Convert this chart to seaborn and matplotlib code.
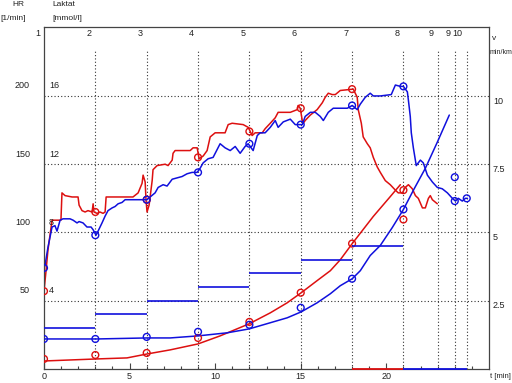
import numpy as np
import seaborn as sns
import matplotlib
matplotlib.use("Agg")
import matplotlib.pyplot as plt

sns.set_theme(style="white")
plt.rcParams['font.family'] = ['Liberation Sans', 'DejaVu Sans']

RED = "#dd1010"
BLUE = "#1010dd"
GRID = "#333333"

# heart rate traces (t in min, HR in 1/min)
red_t = [0, 0.12, 0.23, 0.47, 0.99, 1.05, 1.23, 1.64, 1.99, 2.05, 2.22, 2.40, 2.57, 2.81, 2.87, 2.92,
         3.10, 3.27, 3.45, 3.57, 3.63, 5.20, 5.50, 5.73, 5.79, 5.91, 5.96, 6.02, 6.14, 6.32, 6.37,
         6.61, 7.08, 7.25, 7.49, 7.54, 7.66, 8.54, 8.71, 8.95, 9.06, 9.30, 9.53, 9.71, 10.0, 10.58,
         10.76, 10.99, 11.64, 11.93, 12.05, 12.16, 12.34, 12.75, 12.92, 13.22, 13.51, 13.68, 13.98,
         14.39, 14.80, 14.85, 14.97, 15.09, 15.15, 15.26, 15.56, 15.96, 16.26, 16.43, 16.61, 16.84,
         17.02, 17.31, 18.07, 18.30, 18.36, 18.54, 18.65, 18.89, 19.06, 19.24, 19.47, 19.65, 19.94,
         20.23, 20.53, 20.70, 20.94, 21.11, 21.29, 21.52, 21.70, 21.87, 22.11, 22.28, 22.46, 22.57,
         22.69, 22.98]
red_hr = [57, 72, 87, 109, 109, 129, 127, 126, 126, 120, 116, 115, 116, 115, 121, 115,
          114, 115, 114, 115, 126, 126, 129, 136, 142, 137, 124, 115, 120, 138, 146,
          149, 150, 149, 153, 158, 160, 160, 162, 162, 154, 156, 160, 170, 173, 173,
          179, 180, 179, 177, 174, 171, 173, 173, 176, 180, 184, 188, 188,
          188, 190, 193, 191, 182, 180, 182, 186, 190, 195, 199, 202, 201,
          201, 204, 205, 199, 190, 180, 170, 165, 162, 155, 148, 144, 138,
          135, 131, 129, 129, 133, 135, 132, 127, 125, 118, 118, 125, 127,
          124, 121]

blue_t = [0, 0.06, 0.23, 0.47, 0.64, 0.76, 0.94, 1.11, 1.52, 1.70, 1.93, 2.05, 2.28, 2.51, 2.75,
          2.87, 3.04, 3.16, 3.39, 3.57, 3.74, 3.98, 4.15, 4.33, 4.56, 4.74, 4.91, 5.15, 5.50, 5.79,
          6.02, 6.20, 6.49, 6.67, 6.96, 7.19, 7.49, 7.78, 8.07, 8.36, 8.65, 8.95, 9.12, 9.30, 9.59,
          9.88, 10.29, 10.58, 10.88, 11.17, 11.46, 11.75, 11.93, 12.22, 12.46, 12.63, 12.92, 13.22,
          13.51, 13.68, 13.98, 14.39, 14.68, 14.85, 15.09, 15.26, 15.56, 15.85, 16.14, 16.32, 16.61,
          16.90, 17.31, 17.72, 18.01, 18.30, 18.48, 18.77, 19.06, 19.24, 19.65, 20.29, 20.53, 20.82,
          21.0, 21.23, 21.29, 21.40, 21.46, 21.58, 21.75, 21.99, 22.16, 22.40, 22.69, 22.98, 23.27,
          23.57, 23.86, 24.04, 24.21, 24.44, 24.62, 24.74]
blue_hr = [74, 76, 89, 104, 105, 101, 109, 110, 110, 109, 107, 108, 107, 104, 104,
           102, 98, 101, 107, 112, 116, 118, 119, 121, 122, 124, 124, 124, 124, 124,
           124, 126, 129, 133, 135, 134, 139, 140, 141, 143, 144, 144, 147, 151, 154,
           155, 165, 162, 160, 163, 158, 163, 165, 160, 171, 173, 173, 177,
           182, 177, 181, 183, 179, 179, 179, 185, 188, 188, 185, 182, 188,
           191, 191, 191, 193, 190, 194, 199, 202, 200, 200, 201, 208, 207,
           207, 203, 197, 185, 173, 162, 149, 153, 151, 142, 137, 133, 132,
           129, 125, 123, 125, 123, 125, 125]

# HR at end of each stage
red_hr_pts_t = [0, 3, 6, 9, 12, 15, 18, 21]
red_hr_pts = [57, 115, 124, 155, 174, 191, 205, 131]
blue_hr_pts_t = [0, 3, 6, 9, 12, 15, 18, 21, 24, 24.7]
blue_hr_pts = [74, 98, 124, 144, 165, 179, 193, 207, 123, 125]

# lactate samples (mmol/l)
red_lac_t = [0, 3, 6, 9, 12, 15, 18, 21]
red_lac = [0.59, 0.82, 0.94, 1.82, 2.76, 4.47, 7.35, 8.76]
blue_lac_t = [0, 3, 6, 9, 12, 15, 18, 21, 24]
blue_lac = [1.76, 1.76, 1.88, 2.18, 2.59, 3.59, 5.29, 9.35, 11.24]

# lactate curves
red_fit_t = [0, 3.1, 4.85, 6.02, 7.37, 9.0, 10.29, 11.99, 13.22, 14.21, 15.03, 15.96, 16.73, 17.31,
             18.01, 19.24, 20.23, 20.82]
red_fit = [0.47, 0.59, 0.65, 0.88, 1.12, 1.47, 1.94, 2.65, 3.29, 3.88, 4.47, 5.18, 5.76, 6.4,
           7.35, 8.94, 10.1, 10.8]
blue_fit_t = [0, 3.1, 6.02, 7.37, 9.0, 10.7, 11.99, 13.22, 14.21, 15.03, 15.96, 16.73, 17.31,
              18.01, 18.48, 19.06, 19.65, 20.35, 21.0, 21.58, 22.28, 22.98, 23.68]
blue_fit = [1.76, 1.76, 1.82, 1.82, 1.94, 2.12, 2.35, 2.71, 3.0, 3.35, 3.88, 4.41, 4.88,
            5.29, 5.76, 6.65, 7.24, 8.29, 9.35, 10.47, 11.76, 13.29, 14.88]

# speed per stage
stage_start = [0, 3, 6, 9, 12, 15, 18]
stage_speed = [1.5, 2.0, 2.5, 3.0, 3.5, 4.0, 4.5]

stage_marks = [0, 3, 6, 9, 12, 15, 18, 21, 23, 24, 24.7]
stage_labels = ["1", "2", "3", "4", "5", "6", "7", "8", "9", "9", "10"]

hr_ticks = [50, 100, 150, 200]
lac_ticks = [4, 8, 12, 16]
v_ticks = [2.5, 5, 7.5, 10]

fig = plt.figure(figsize=(5.12, 3.83), dpi=100)
ax = fig.add_axes([44 / 512, 14 / 383, 445 / 512, 342 / 383])
ax.set_xlim(0, 26.0)
ax.set_ylim(0, 250.5)

ax_lac = ax.twinx()
ax_lac.set_ylim(0, 20.04)
ax_lac.set_axis_off()
ax_v = ax.twinx()
ax_v.set_ylim(0, 12.53)
ax_v.set_axis_off()

# grid
dots = (0, (1, 2))
ax.hlines(hr_ticks, 0, 26.0, color=GRID, lw=0.8, linestyles=[dots])
ax.vlines(stage_marks[1:], 0, 234.5, color=GRID, lw=0.8, linestyles=[dots])

# speed steps
ax_v.hlines(stage_speed, stage_start, [s + 3 for s in stage_start], color=BLUE, lw=1.2)
ax.hlines([0], [18], [21], color=RED, lw=1.3, clip_on=False, zorder=5)
ax.hlines([0], [21], [24.7], color=BLUE, lw=1.3, clip_on=False, zorder=5)

lw = 1.1
sns.lineplot(x=red_t, y=red_hr, ax=ax, color=RED, lw=lw, sort=False, estimator=None)
sns.lineplot(x=blue_t, y=blue_hr, ax=ax, color=BLUE, lw=lw, sort=False, estimator=None)
sns.lineplot(x=red_fit_t, y=red_fit, ax=ax_lac, color=RED, lw=lw, sort=False, estimator=None)
sns.lineplot(x=blue_fit_t, y=blue_fit, ax=ax_lac, color=BLUE, lw=lw, sort=False, estimator=None)

mk = dict(marker="o", s=24, facecolor="none", linewidth=1.0, zorder=6)
sns.scatterplot(x=red_hr_pts_t, y=red_hr_pts, ax=ax, edgecolor=RED, **mk)
sns.scatterplot(x=blue_hr_pts_t, y=blue_hr_pts, ax=ax, edgecolor=BLUE, **mk)
sns.scatterplot(x=red_lac_t, y=red_lac, ax=ax_lac, edgecolor=RED, **mk)
sns.scatterplot(x=blue_lac_t, y=blue_lac, ax=ax_lac, edgecolor=BLUE, **mk)

for a in (ax, ax_lac, ax_v):
    a.set_xlim(0, 26.0)

# axes styling
for sp in ax.spines.values():
    sp.set_visible(True)
    sp.set_color("#444444")
    sp.set_linewidth(0.9)
ax.set_yticks([])
ax.set_xticks([0, 5, 10, 15, 20])
ax.set_xticklabels(["0", "5", "10", "15", "20"])
ax.set_xticks(np.arange(0, 26, 1), minor=True)
ax.tick_params(axis="x", which="major", direction="in", length=4, width=0.8,
               color="#444444", pad=2, labelsize=6.5, labelcolor="#222222", bottom=True)
ax.tick_params(axis="x", which="minor", direction="in", length=2.2, width=0.8,
               color="#444444", bottom=True)

fs = 6.5
tc = "#222222"
for v in hr_ticks:
    ax.annotate(str(v), (0, v), xytext=(-14, 10), textcoords="offset pixels",
                ha="right", va="center", fontsize=fs, color=tc, annotation_clip=False)
for v in lac_ticks:
    ax_lac.annotate(str(v), (0, v), xytext=(5, 10), textcoords="offset pixels",
                    ha="left", va="center", fontsize=fs, color=tc, annotation_clip=False)
for v in v_ticks:
    ax_v.annotate(f"{v:g}", (26.0, v), xytext=(4, -5), textcoords="offset pixels",
                  ha="left", va="center", fontsize=fs, color=tc, annotation_clip=False)
for t, lab in zip(stage_marks, stage_labels):
    ax.annotate(lab, (t, 245.5), xytext=(-4, 0), textcoords="offset pixels",
                ha="right", va="center", fontsize=fs, color=tc, annotation_clip=False)

def ftext(x, y, s, ha="left", size=fs - 0.5):
    fig.text(x / 512, 1 - y / 383, s, ha=ha, va="center", fontsize=size, color=tc)

ftext(18, 5, "HR", ha="center")
ftext(0, 18, "[1/min]")
ftext(52, 5, "Laktat")
ftext(52, 18, "[mmol/l]")
ftext(492, 38, "v")
ftext(490, 52, "min/km", size=5.0)
ftext(490, 377, "t [min]", size=5.5)

fig.savefig("out.png", dpi=100)
